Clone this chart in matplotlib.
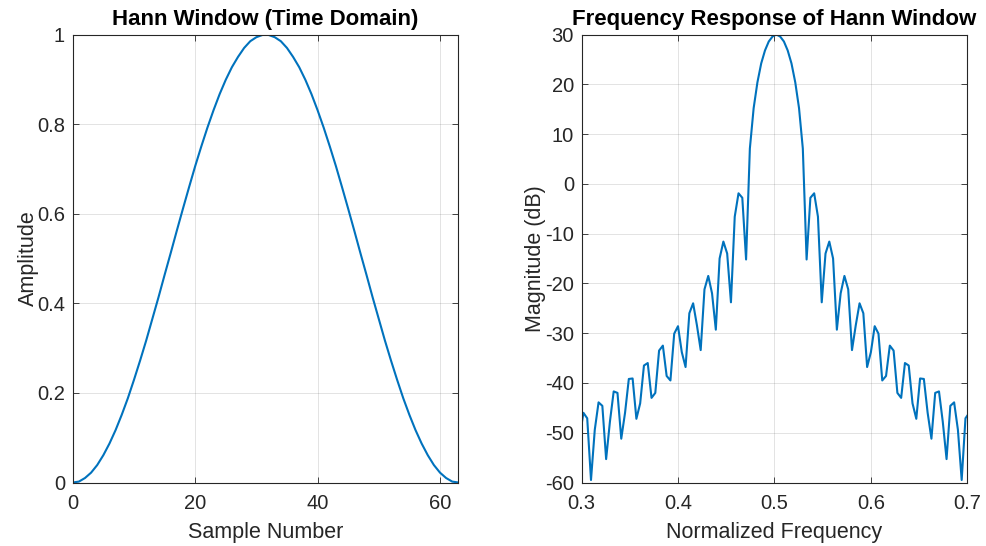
# -*- coding: utf-8 -*-
"""
Hann window (time domain) and its frequency response, MATLAB-style two panel figure.
"""
import matplotlib
matplotlib.use('Agg')
import matplotlib.pyplot as plt
import numpy as np

plt.rcParams['font.family'] = ['Liberation Sans', 'DejaVu Sans']
plt.rcParams['axes.unicode_minus'] = False

# ---- data: left panel (64-point Hann window) ----
sample_number = np.arange(64)
amplitude = [
    0.000, 0.002, 0.010, 0.022, 0.039, 0.061, 0.087, 0.117,
    0.151, 0.188, 0.229, 0.272, 0.317, 0.365, 0.413, 0.463,
    0.512, 0.562, 0.611, 0.659, 0.706, 0.750, 0.792, 0.831,
    0.867, 0.899, 0.927, 0.950, 0.970, 0.985, 0.994, 0.999,
    0.999, 0.994, 0.985, 0.970, 0.950, 0.927, 0.899, 0.867,
    0.831, 0.792, 0.750, 0.706, 0.659, 0.611, 0.562, 0.512,
    0.463, 0.413, 0.365, 0.317, 0.272, 0.229, 0.188, 0.151,
    0.117, 0.087, 0.061, 0.039, 0.022, 0.010, 0.002, 0.000,
]

# ---- data: right panel (magnitude in dB on normalized frequency grid) ----
norm_freq = np.linspace(0, 1, 256)[76:180]
magnitude_db = [
    -50.8, -46.0, -47.1, -59.5, -49.4, -43.9, -44.6, -55.3,
    -47.8, -41.7, -42.0, -51.2, -46.0, -39.2, -39.1, -47.2,
    -44.1, -36.5, -36.0, -43.0, -42.0, -33.5, -32.5, -38.6,
    -39.5, -30.1, -28.6, -33.8, -36.8, -26.0, -24.0, -28.4,
    -33.4, -21.2, -18.5, -22.0, -29.3, -15.0, -11.6, -14.0,
    -23.8, -6.6, -1.9, -2.8, -15.2, 7.1, 15.2, 20.4,
    24.2, 26.8, 28.6, 29.6, 30.0, 29.6, 28.6, 26.8,
    24.2, 20.4, 15.2, 7.1, -15.2, -2.8, -1.9, -6.6,
    -23.8, -14.0, -11.6, -15.0, -29.3, -22.0, -18.5, -21.2,
    -33.4, -28.4, -24.0, -26.0, -36.8, -33.8, -28.6, -30.1,
    -39.5, -38.6, -32.5, -33.5, -42.0, -43.0, -36.0, -36.5,
    -44.1, -47.2, -39.1, -39.2, -46.0, -51.2, -42.0, -41.7,
    -47.8, -55.3, -44.6, -43.9, -49.4, -59.5, -47.1, -46.0,
]

LINE_COLOR = '#0072BD'
AX_COLOR = '#262626'


def style_axes(ax):
    ax.grid(True, color=AX_COLOR, alpha=0.15, linewidth=0.6)
    ax.set_axisbelow(True)
    ax.tick_params(direction='in', length=4, width=0.6, colors=AX_COLOR,
                   labelsize=14.5, top=True, right=True)
    ax.tick_params(axis='x', pad=8)
    ax.tick_params(axis='y', pad=5.5)
    for s in ax.spines.values():
        s.set_color(AX_COLOR)
        s.set_linewidth(0.8)


fig = plt.figure(figsize=(9.87, 5.46), dpi=100)

# left: time domain
ax1 = fig.add_axes([0.0737, 0.1163, 0.3907, 0.8205])
ax1.plot(sample_number, amplitude, color=LINE_COLOR, linewidth=1.5)
ax1.set_xlim(0, 63)
ax1.set_ylim(0, 1)
ax1.set_xticks([0, 20, 40, 60])
ax1.set_yticks([0, 0.2, 0.4, 0.6, 0.8, 1])
ax1.set_yticklabels(['0', '0.2', '0.4', '0.6', '0.8', '1'])
ax1.set_title('Hann Window (Time Domain)', fontsize=16, fontweight='bold',
              color='black', pad=6.5)
ax1.set_xlabel('Sample Number', fontsize=15.5, color=AX_COLOR, labelpad=7)
ax1.set_ylabel('Amplitude', fontsize=15.5, color=AX_COLOR, labelpad=-1)
style_axes(ax1)

# right: frequency response
ax2 = fig.add_axes([0.5892, 0.1163, 0.3909, 0.8205])
ax2.plot(norm_freq, magnitude_db, color=LINE_COLOR, linewidth=1.5)
ax2.set_xlim(0.3, 0.7)
ax2.set_ylim(-60, 30)
ax2.set_xticks([0.3, 0.4, 0.5, 0.6, 0.7])
ax2.set_yticks(np.arange(-60, 31, 10))
ax2.set_title('Frequency Response of Hann Window', fontsize=16,
              fontweight='bold', color='black', pad=6.5)
ax2.set_xlabel('Normalized Frequency', fontsize=15.5, color=AX_COLOR, labelpad=7)
ax2.set_ylabel('Magnitude (dB)', fontsize=15.5, color=AX_COLOR, labelpad=-1)
style_axes(ax2)

fig.savefig('out.png', dpi=100)
